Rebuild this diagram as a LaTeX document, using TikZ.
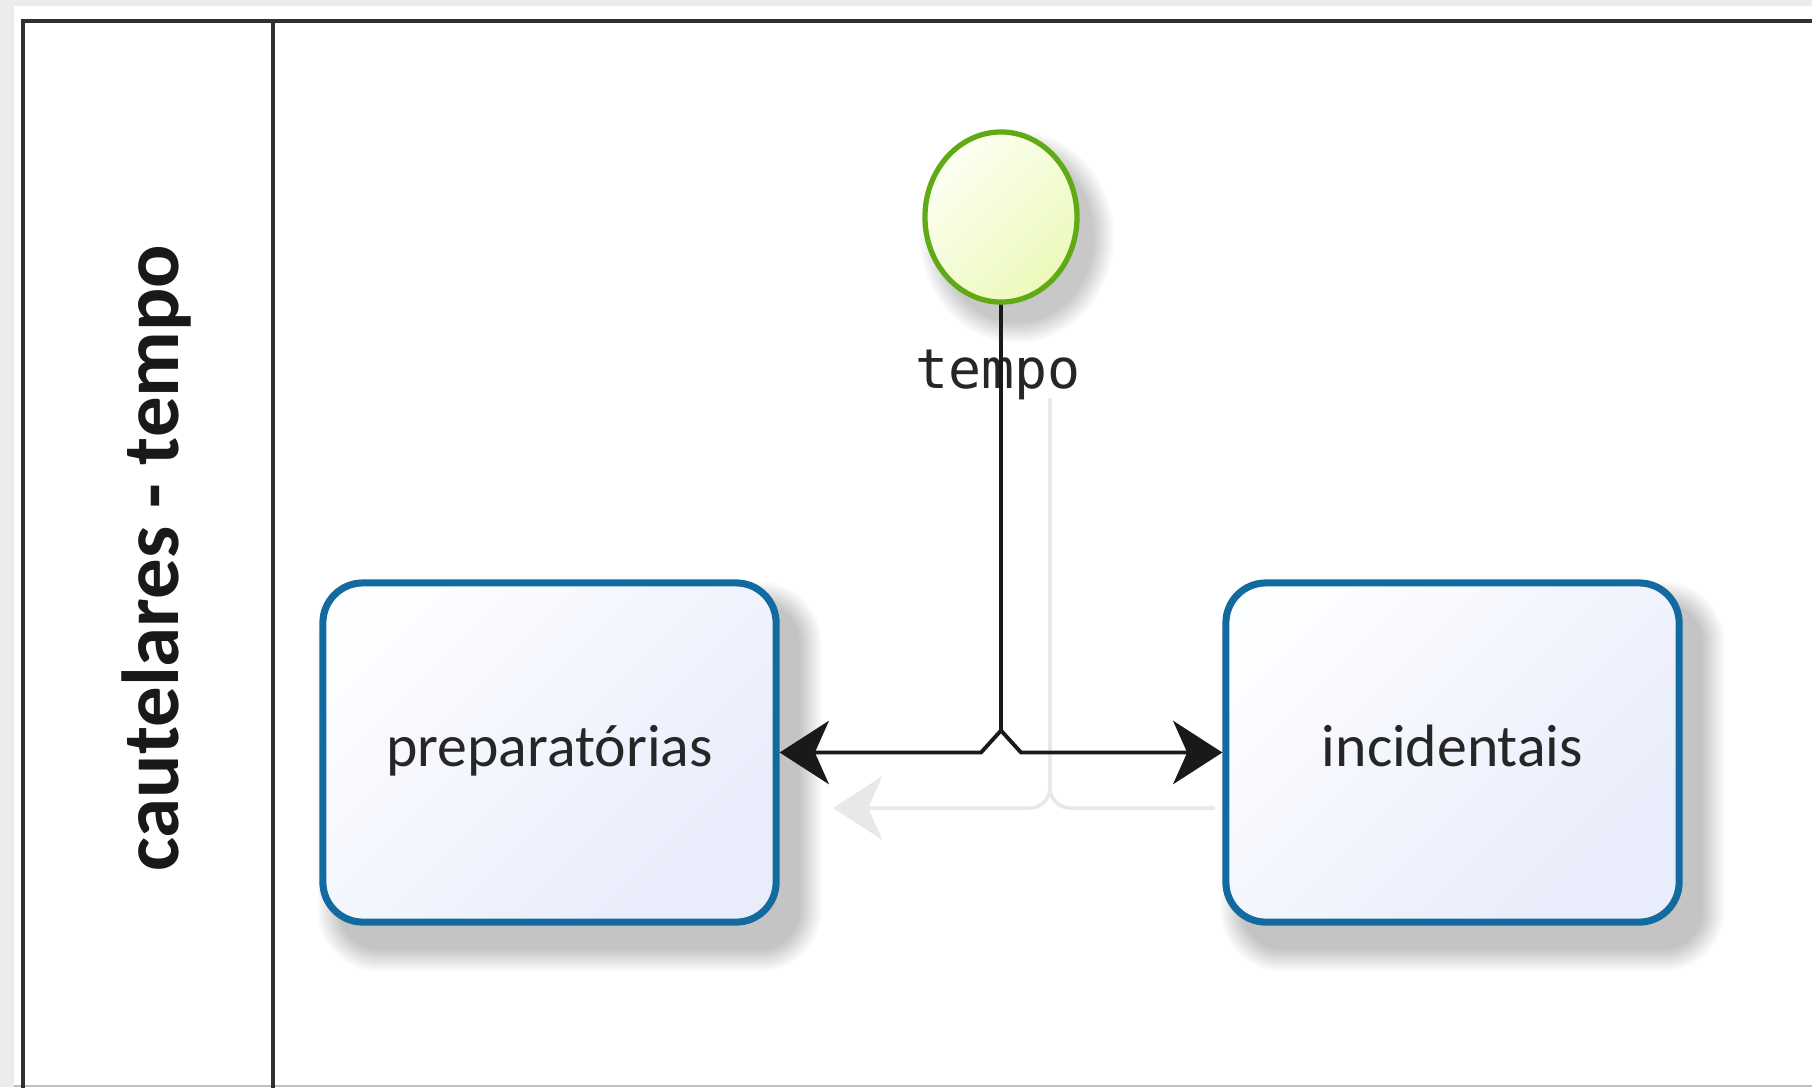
\documentclass[tikz,border=0pt]{standalone}
\usepackage{fontspec}
\setmainfont{Carlito}
\newfontfamily\monofont{DejaVu Sans Mono}
\usetikzlibrary{arrows.meta,calc,shapes.geometric,backgrounds}
\definecolor{taskblue}{RGB}{18,106,158}
\definecolor{tasklight}{RGB}{252,253,255}
\definecolor{taskdark}{RGB}{232,236,251}
\definecolor{evtgreen}{RGB}{96,170,22}
\definecolor{evtlight}{RGB}{252,255,242}
\definecolor{evtdark}{RGB}{236,249,186}
\definecolor{lanegray}{RGB}{48,48,48}
\definecolor{ghostgray}{RGB}{232,232,232}
\definecolor{bggray}{RGB}{236,236,236}

\begin{document}
\begin{tikzpicture}[x=0.01cm, y=-0.01cm,
    lane/.style={draw=lanegray, line width=1.3pt},
    task/.style={draw=taskblue, line width=2pt, rounded corners=0.4cm, minimum width=4.53cm, minimum height=3.39cm,
        top color=tasklight, bottom color=taskdark, shading angle=45,
        font=\fontsize{17}{20}\selectfont, text=black!85, text height=0.4cm, text depth=0.12cm},
    evt/.style={ellipse, draw=evtgreen, line width=1.5pt, minimum width=1.52cm, minimum height=1.70cm, inner sep=0pt,
        top color=evtlight, bottom color=evtdark, shading angle=45},
    shade/.style={black, opacity=0.019},
    flow/.style={line width=1.1pt, black!90, line join=miter},
    ghost/.style={line width=1pt, ghostgray, rounded corners=0.2cm},
    tip/.style={-{Stealth[length=14pt, width=18pt, inset=4pt]}}
]
\clip (0,0) rectangle (1812,1087);

\node[evt] (start) at (1001,217) {};
\node[anchor=base, font=\monofont\fontsize{15.6}{18}\selectfont, text=black!85] (startlbl) at (998,388) {tempo};

\node[task] (prep) at (549.5,752.5) {preparatórias};
\node[task] (incid) at (1452.5,752.5) {incidentais};

\begin{scope}[on background layer]
\fill[bggray] (0,0) rectangle (1812,1087);
\fill[white] (14,6) rectangle (1812,1085);
\draw[black!25, line width=0.6pt] (14,1086) -- (1812,1086);
\foreach \n in {prep,incid}
    \foreach \e in {0,2,...,22}
        \fill[shade, rounded corners={0.4cm+\e*0.01cm}] ($(\n.north west)+(20-\e,24-\e)$) rectangle ($(\n.south east)+(20+\e,24+\e)$);
\foreach \e in {0,2,...,20}
    \fill[shade] ($(start)+(16,20)$) ellipse [x radius=77+\e, y radius=86+\e];
\end{scope}

\draw[lane] (23,21) rectangle (1900,1150);
\draw[lane] (273,21) -- (273,1150);
\node[rotate=90, anchor=base, font=\bfseries\fontsize{23}{26}\selectfont, text=black!90] (lanename) at (178,558) {cautelares - tempo};

\coordinate (gtop) at (1050,398);
\coordinate (gleft) at (833,808);
\coordinate (gright) at (1215,808);
\draw[ghost, tip] (gtop) |- (gleft);
\draw[ghost] (gtop) |- (gright);

\coordinate (hop) at (start |- prep.east);
\draw[flow, tip] ($(hop)+(0,-22)$) -- ($(hop)+(-20,0)$) -- (prep.east);
\draw[flow, tip] (start.south) -- ($(hop)+(0,-22)$) -- ($(hop)+(20,0)$) -- (incid.west);
\end{tikzpicture}
\end{document}
